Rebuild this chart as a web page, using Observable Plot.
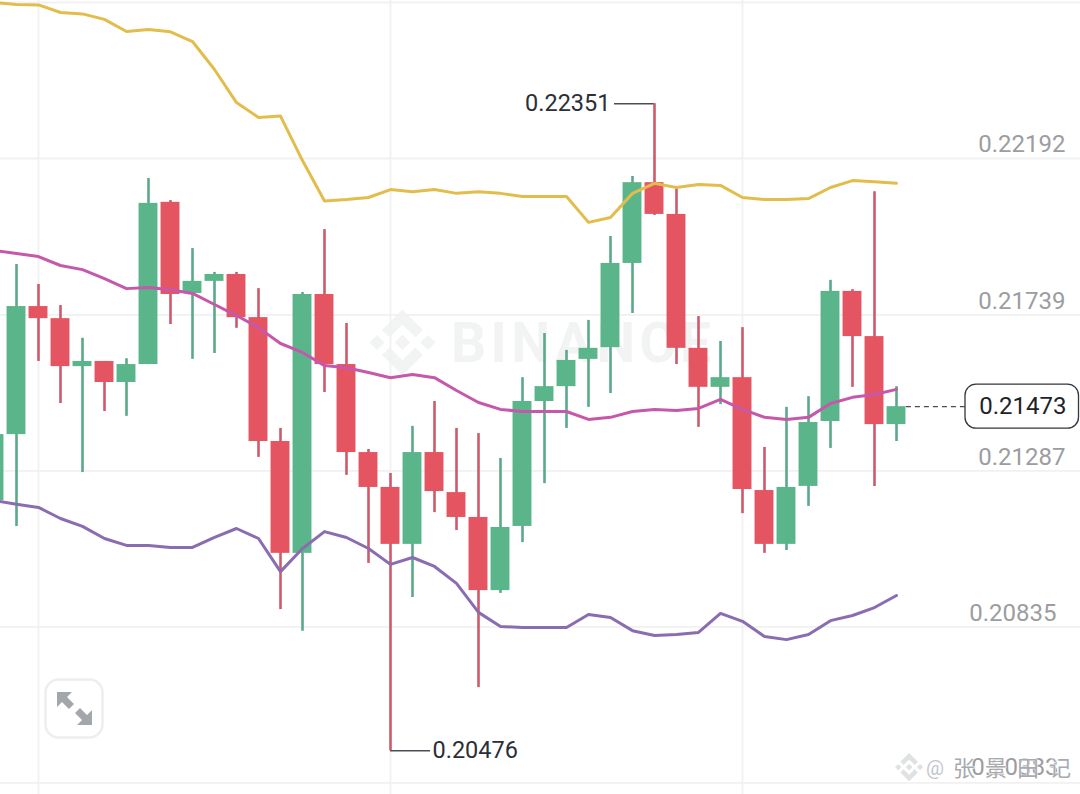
<!DOCTYPE html>
<html>
<head>
<meta charset="utf-8">
<script src="https://cdn.jsdelivr.net/npm/d3@7"></script>
<script src="https://cdn.jsdelivr.net/npm/@observablehq/plot@0.6"></script>
<style>
html,body{margin:0;padding:0;background:#fff;overflow:hidden}
svg{display:block}
</style>
</head>
<body>
<div id="chart"></div>
<script>
const opens = [0.21201,0.21392,0.21763,0.21728,0.21589,0.21604,0.21543,0.21595,0.22065,0.21801,0.21836,0.21856,0.21731,0.21372,0.21048,0.21798,0.21595,0.21340,0.21239,0.21074,0.21340,0.21224,0.21152,0.20940,0.21126,0.21488,0.21531,0.21610,0.21644,0.21888,0.22122,0.22030,0.21642,0.21529,0.21557,0.21230,0.21074,0.21242,0.21430,0.21807,0.21676,0.21421];
const highs = [0.21433,0.21885,0.21827,0.21766,0.21671,0.21604,0.21612,0.22134,0.22070,0.21931,0.21862,0.21862,0.21815,0.21410,0.21804,0.21986,0.21714,0.21349,0.21279,0.21416,0.21488,0.21410,0.21395,0.21323,0.21557,0.21685,0.21636,0.21723,0.21966,0.22140,0.22351,0.22108,0.21734,0.21662,0.21702,0.21355,0.21471,0.21502,0.21839,0.21812,0.22096,0.21531];
const lows = [0.21201,0.21126,0.21604,0.21482,0.21282,0.21459,0.21445,0.21595,0.21711,0.21610,0.21627,0.21700,0.21326,0.20885,0.20822,0.21514,0.21274,0.21019,0.20476,0.20920,0.21166,0.21114,0.20659,0.20932,0.21079,0.21250,0.21410,0.21471,0.21511,0.21743,0.22027,0.21595,0.21413,0.21479,0.21163,0.21048,0.21056,0.21184,0.21352,0.21529,0.21242,0.21372];
const closes = [0.21392,0.21763,0.21728,0.21589,0.21604,0.21543,0.21595,0.22062,0.21798,0.21836,0.21856,0.21731,0.21372,0.21048,0.21798,0.21595,0.21340,0.21239,0.21074,0.21340,0.21227,0.21152,0.20940,0.21123,0.21488,0.21531,0.21607,0.21642,0.21888,0.22122,0.22030,0.21642,0.21529,0.21557,0.21233,0.21074,0.21239,0.21427,0.21807,0.21676,0.21421,0.21473];
const upperBand = [0.22644,0.22638,0.22637,0.22615,0.22611,0.22595,0.22560,0.22566,0.22559,0.22531,0.22450,0.22354,0.22311,0.22315,0.22186,0.22069,0.22073,0.22079,0.22102,0.22096,0.22102,0.22091,0.22096,0.22091,0.22082,0.22082,0.22082,0.22007,0.22021,0.22091,0.22120,0.22108,0.22117,0.22114,0.22079,0.22073,0.22073,0.22076,0.22108,0.22128,0.22125,0.22120];
const middleBand = [0.21925,0.21917,0.21908,0.21882,0.21870,0.21844,0.21815,0.21818,0.21812,0.21801,0.21769,0.21737,0.21702,0.21656,0.21630,0.21592,0.21586,0.21572,0.21557,0.21566,0.21557,0.21520,0.21485,0.21465,0.21459,0.21459,0.21459,0.21436,0.21442,0.21459,0.21465,0.21462,0.21468,0.21494,0.21465,0.21442,0.21436,0.21442,0.21482,0.21500,0.21508,0.21523];
const lowerBand = [0.21201,0.21190,0.21181,0.21149,0.21126,0.21091,0.21071,0.21071,0.21065,0.21065,0.21094,0.21120,0.21091,0.20995,0.21062,0.21111,0.21094,0.21062,0.21016,0.21036,0.21010,0.20961,0.20877,0.20836,0.20833,0.20833,0.20833,0.20871,0.20862,0.20824,0.20810,0.20813,0.20819,0.20874,0.20851,0.20807,0.20798,0.20813,0.20853,0.20868,0.20891,0.20926];
const gridPrices = [0.22644,0.22192,0.21739,0.21287,0.20835,0.20383];
const gridCandles = [2,18,34];
const axisLabels = [0.22192,0.21739,0.21287];
const currentPrice = 0.21473;
const highMark = {i:30,price:0.22351};
const lowMark = {i:18,price:0.20476};
const watermark = "BINANCE";
const author = "张景田记";

const GREEN="#5ab58a",RED="#e55461",WICK_G="#5aa988",WICK_R="#cd5a6b";
const candles = opens.map((o,i)=>({i,o,h:highs[i],l:lows[i],c:closes[i],up:closes[i]>=o}));
const band = a => a.map((p,i)=>({i,p}));
const LOGO="M38.171 53.203 62.759 28.616l24.6 24.6 14.307-14.307L62.759 0 23.864 38.896z M0 62.759l14.307-14.307 14.307 14.307-14.307 14.307z M38.171 72.315 62.759 96.902l24.6-24.6 14.307 14.3L62.759 125.518 23.864 86.625z M96.904 62.759l14.307-14.307 14.307 14.307-14.307 14.307z M77.271 62.751h.006L62.759 48.233 52.03 58.961l-1.232 1.233-2.543 2.543 14.504 14.505 14.518-14.483z";
const FONT="Roboto, sans-serif";

function backdrop(){
  const g=d3.create("svg:g");
  g.append("path").attr("d",LOGO).attr("fill","#f2f3f3").attr("transform","translate(369.5,309.5) scale(0.525)");
  g.append("text").text(watermark).attr("x",451).attr("y",362).attr("font-family",FONT).attr("font-weight",700)
    .attr("text-anchor","start").attr("font-size",55).attr("fill","#f2f3f3").attr("textLength",260);
  return g.node();
}
function expandIcon(){
  const g=d3.create("svg:g");
  g.append("rect").attr("x",45.5).attr("y",679.5).attr("width",57).attr("height",58).attr("rx",13)
    .attr("fill","#fff").attr("stroke","#eceeef").attr("stroke-width",2.5);
  g.append("path").attr("fill","#a3a6ab")
    .attr("d","M57 692L72 692L67 697L74 704L69 709L62 702L57 707ZM92 725L77 725L82 720L75 713L80 708L87 715L92 710Z");
  return g.node();
}
function priceBox(index,scales){
  const g=d3.create("svg:g"), yc=scales.y(currentPrice);
  g.append("rect").attr("x",965).attr("y",yc-22).attr("width",113.5).attr("height",44).attr("rx",11)
    .attr("fill","#fff").attr("stroke","#33373c").attr("stroke-width",1.3);
  return g.node();
}
function footerMark(){
  const g=d3.create("svg:g");
  g.append("path").attr("d",LOGO).attr("fill","#dfe1e3").attr("stroke","#fff").attr("stroke-width",3)
    .attr("paint-order","stroke").attr("transform","translate(895,753) scale(0.225)");
  g.append("text").text("@").attr("x",926).attr("y",775).attr("text-anchor","start").attr("font-family",FONT).attr("font-size",20).attr("fill","#c4c6c9");
  g.append("text").text(author).attr("x",953).attr("y",776).attr("text-anchor","start").attr("font-family","'Noto Sans CJK SC'").attr("font-size",22)
    .attr("textLength",118).attr("fill","#a8aaad").attr("stroke","#fff").attr("stroke-width",1).attr("paint-order","stroke");
  return g.node();
}

const priceText = d=>d.toFixed(5);
const plot = Plot.plot({
  width:1080,height:794,margin:0,
  style:{background:"#fff",fontFamily:FONT},
  x:{type:"linear",domain:[6/22,1086/22],range:[0,1080],axis:null},
  y:{type:"linear",domain:[0.203493,0.226498],range:[794,0],axis:null},
  marks:[
    backdrop,
    Plot.ruleY(gridPrices,{stroke:"#f1f1f1",strokeWidth:1.8}),
    Plot.ruleX(gridCandles,{stroke:"#f1f1f1",strokeWidth:1.8}),
    Plot.ruleY([highMark],{y:"price",x1:d=>d.i-40/22,x2:"i",stroke:"#4a4e54",strokeWidth:1.5}),
    Plot.ruleY([lowMark],{y:"price",x1:"i",x2:d=>d.i+40/22,stroke:"#4a4e54",strokeWidth:1.5}),
    Plot.ruleX(candles,{x:"i",y1:"l",y2:"h",stroke:d=>d.up?WICK_G:WICK_R,strokeWidth:2.6}),
    Plot.rect(candles,{x1:d=>d.i-0.43,x2:d=>d.i+0.43,y1:"o",y2:"c",fill:d=>d.up?GREEN:RED}),
    Plot.line(band(upperBand),{x:"i",y:"p",stroke:"#e3bd4b",strokeWidth:3}),
    Plot.line(band(middleBand),{x:"i",y:"p",stroke:"#c658ac",strokeWidth:3}),
    Plot.line(band(lowerBand),{x:"i",y:"p",stroke:"#8a6cb0",strokeWidth:3}),
    Plot.ruleY([currentPrice],{x1:41.45,x2:44.15,stroke:"#4a4e54",strokeWidth:1.2,strokeDasharray:"5 4"}),
    priceBox,
    Plot.text([currentPrice],{y:d=>d,text:priceText,frameAnchor:"right",dx:-14,textAnchor:"end",fontSize:24,fill:"#1e2329"}),
    Plot.text(axisLabels,{y:d=>d,text:priceText,frameAnchor:"right",dx:-15,dy:-14,textAnchor:"end",fontSize:24,fill:"#9b9da0"}),
    Plot.text([0.20835],{y:d=>d,text:priceText,frameAnchor:"right",dx:-24,dy:-14,textAnchor:"end",fontSize:24,fill:"#9b9da0"}),
    Plot.text([0.20383],{y:d=>d,text:priceText,frameAnchor:"right",dx:-22,dy:-16,textAnchor:"end",fontSize:24,fill:"#9b9da0"}),
    footerMark,
    Plot.text([highMark],{x:"i",y:"price",text:d=>priceText(d.price),dx:-44,textAnchor:"end",fontSize:23.5,fill:"#2b2f36"}),
    Plot.text([lowMark],{x:"i",y:"price",text:d=>priceText(d.price),dx:42,textAnchor:"start",fontSize:23.5,fill:"#2b2f36"}),
    expandIcon
  ]
});
document.getElementById("chart").append(plot);
</script>
</body>
</html>
